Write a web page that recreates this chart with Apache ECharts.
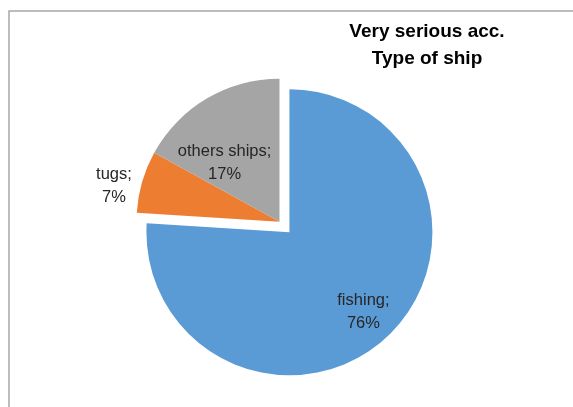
<!DOCTYPE html>
<html>
<head>
<meta charset="utf-8">
<script src="https://cdn.jsdelivr.net/npm/echarts@6/dist/echarts.min.js"></script>
<style>
html,body{margin:0;padding:0;background:#fff;}
#c{width:573px;height:407px;}
</style>
</head>
<body>
<div id="c"></div>
<script>
var categories = ['fishing', 'tugs', 'others ships'];
var values = [76, 7, 17];
var colors = ['#5B9BD5', '#ED7D31', '#A5A5A5'];
var exploded = [true, false, false];
var labelShift = [[23, 25], [-94, -15], [-17, 5]];

var chart = echarts.init(document.getElementById('c'), null, {renderer: 'canvas'});
var data = categories.map(function (name, i) {
  return {
    name: name,
    value: values[i],
    selected: exploded[i],
    itemStyle: {color: colors[i]}
  };
});
chart.setOption({
  animation: false,
  backgroundColor: '#ffffff',
  title: {
    text: 'Very serious acc.\nType of ship',
    left: 422,
    top: 13,
    textAlign: 'center',
    textStyle: {
      fontFamily: 'Liberation Sans',
      fontSize: 19,
      fontWeight: 'bold',
      color: '#000000',
      lineHeight: 27
    }
  },
  graphic: [{
    type: 'rect',
    shape: {x: 9, y: 11, width: 700, height: 500},
    style: {fill: 'none', stroke: '#a8a8a8', lineWidth: 1.5},
    silent: true
  }],
  series: [{
    type: 'pie',
    center: [279.5, 221.7],
    radius: [0, 143],
    startAngle: 90,
    clockwise: true,
    selectedMode: 'single',
    selectedOffset: 14.5,
    avoidLabelOverlap: false,
    data: data,
    itemStyle: {borderWidth: 0},
    label: {
      show: true,
      position: 'inside',
      formatter: function (p) { return p.name + ';\n' + p.value + '%'; },
      fontFamily: 'Liberation Sans',
      fontSize: 16.5,
      lineHeight: 23,
      color: '#262626'
    },
    labelLine: {show: false},
    labelLayout: function (p) {
      var s = labelShift[p.dataIndex];
      return {dx: s[0], dy: s[1]};
    },
    emphasis: {disabled: true}
  }]
});
</script>
</body>
</html>
